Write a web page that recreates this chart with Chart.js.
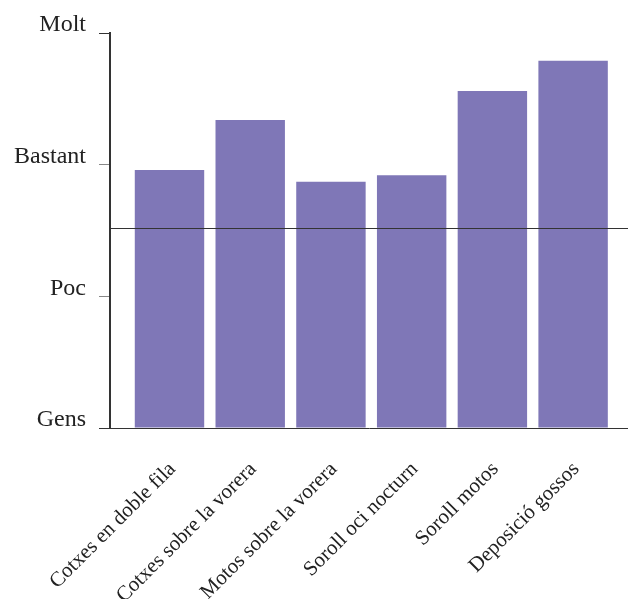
<!DOCTYPE html>
<html>
<head>
<meta charset="utf-8">
<script src="https://cdn.jsdelivr.net/npm/chart.js@4"></script>
<style>
  html, body { margin: 0; padding: 0; background: #fff; }
  #wrap { width: 628px; height: 599px; position: relative; }
</style>
</head>
<body>
<div id="wrap"><canvas id="c"></canvas></div>
<script>
const categories = ["Cotxes en doble fila", "Cotxes sobre la vorera", "Motos sobre la vorera", "Soroll oci nocturn", "Soroll motos", "Deposició gossos"];
const values = [1.96, 2.34, 1.87, 1.92, 2.56, 2.79];
const levelLabels = ["Gens", "Poc", "Bastant", "Molt"];
const referenceLevel = 1.52;

const FONT = "'Liberation Serif', 'Times New Roman', serif";
const TEXT = "#222";

const refLine = {
  id: "refLine",
  afterDatasetsDraw(chart) {
    const { ctx, chartArea, scales } = chart;
    const y = Math.round(scales.y.getPixelForValue(referenceLevel)) + 0.5;
    ctx.save();
    ctx.strokeStyle = "#333";
    ctx.lineWidth = 1;
    ctx.beginPath();
    ctx.moveTo(chartArea.left, y);
    ctx.lineTo(chartArea.right, y);
    ctx.stroke();
    ctx.restore();
  }
};

new Chart(document.getElementById("c"), {
  type: "bar",
  data: {
    datasets: [{
      data: values.map((v, i) => ({ x: i, y: v })),
      backgroundColor: "#7f77b7",
      borderWidth: 0,
      barPercentage: 0.86,
      categoryPercentage: 1,
      xAxisID: "x",
      yAxisID: "y"
    }]
  },
  options: {
    responsive: true,
    maintainAspectRatio: false,
    animation: false,
    layout: { padding: { top: 33, right: 0, bottom: 0, left: 0 } },
    plugins: { legend: { display: false }, tooltip: { enabled: false } },
    scales: {
      x: {
        type: "linear",
        position: "bottom",
        offset: false,
        min: -0.737,
        max: 5.68,
        afterBuildTicks: s => { s.ticks = categories.map((_, i) => ({ value: i })); },
        ticks: {
          autoSkip: false,
          minRotation: 45,
          maxRotation: 45,
          padding: 29,
          labelOffset: 3,
          color: TEXT,
          font: { family: FONT, size: 21 },
          callback: v => categories[v]
        },
        grid: { drawOnChartArea: false, drawTicks: false, offset: false },
        border: { color: "#333", width: 1 },
        afterFit: s => { s.height = 171; s.paddingLeft = 0; s.paddingRight = 0; }
      },
      y: {
        type: "linear",
        min: 0,
        max: 3,
        afterBuildTicks: s => { s.ticks = levelLabels.map((_, i) => ({ value: i })); },
        ticks: {
          padding: 13,
          labelOffset: -8,
          color: TEXT,
          font: { family: FONT, size: 24 },
          callback: v => levelLabels[v]
        },
        grid: {
          drawOnChartArea: false,
          tickLength: 11,
          color: ctx => (ctx.tick && (ctx.tick.value === 1 || ctx.tick.value === 2)) ? "#888" : "#333"
        },
        border: { color: "#333", width: 2 },
        afterFit: s => { s.width = 110; s.paddingTop = 0; s.paddingBottom = 0; }
      }
    }
  },
  plugins: [refLine]
});
</script>
</body>
</html>
